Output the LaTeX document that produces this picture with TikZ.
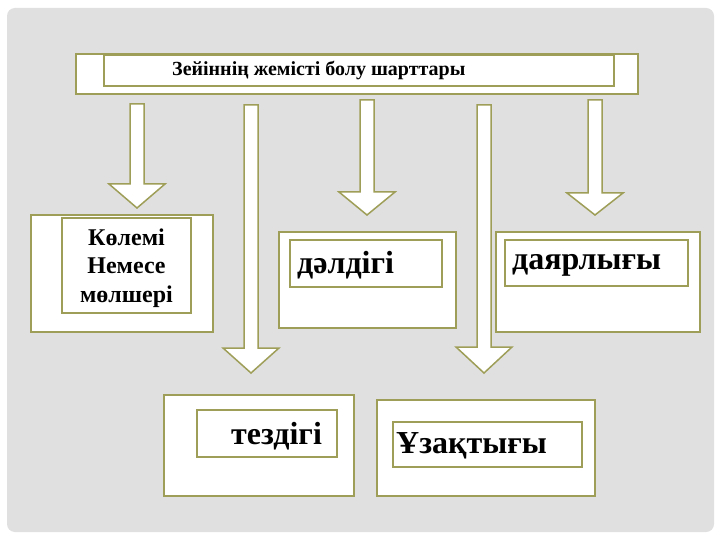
\documentclass[tikz,border=0pt]{standalone}
\usepackage{fontspec}
\setmainfont{Liberation Serif}
\definecolor{bg}{RGB}{224,224,224}
\definecolor{olive}{RGB}{158,158,88}
\tikzset{
  x=1pt, y=-1pt,
  outerbox/.style={draw=olive, line width=1.6pt, fill=white},
  innerbox/.style={draw=olive, line width=1.6pt, fill=white},
  blockarrow/.style={draw=olive, line width=1.5pt, fill=white, line join=miter},
  lbl/.style={font=\bfseries, text=black, inner sep=0pt},
}
% #1 center x, #2 top y, #3 head top y, #4 tip y
\newcommand\myblockarrow[4]{%
  \draw[blockarrow] (#1-7,#2) -- (#1+7,#2) -- (#1+7,#3) -- (#1+28,#3) -- (#1,#4)
    -- (#1-28,#3) -- (#1-7,#3) -- cycle;}
\begin{document}
\begin{tikzpicture}
\useasboundingbox (0,0) rectangle (720,540);
\fill[white] (0,0) rectangle (720,540);
\fill[bg, rounded corners=8pt] (7,8) rectangle (714,532);

% top box
\draw[outerbox] (76,54) rectangle (638,94);
\draw[innerbox] (104,55) rectangle (614,86);
\node[lbl, font=\fontsize{20}{22}\selectfont\bfseries, anchor=west] (top) at (172,71) {Зейіннің жемісті болу шарттары};

% arrows
\myblockarrow{137}{104}{184}{208}
\myblockarrow{251}{105}{348}{373}
\myblockarrow{367}{100}{192}{215}
\myblockarrow{484}{105}{347}{373}
\myblockarrow{595}{100}{193}{215}

% box A
\draw[outerbox] (31,215) rectangle (213,332);
\draw[innerbox] (62,218) rectangle (191,313);
\node[lbl, font=\fontsize{24}{28.5}\selectfont\bfseries, align=center] (a) at (126.5,268) {Көлемі\\Немесе\\мөлшері};

% box B
\draw[outerbox] (279,232) rectangle (456,328);
\draw[innerbox] (290,240) rectangle (442,287);
\node[lbl, font=\fontsize{32}{36}\selectfont\bfseries, anchor=west] (b) at (297,265) {дәлдігі};

% box C
\draw[outerbox] (496,232) rectangle (700,332);
\draw[innerbox] (505,240) rectangle (688,286);
\node[lbl, font=\fontsize{32}{36}\selectfont\bfseries, anchor=west] (c) at (512,265) {даярлығы};

% box D
\draw[outerbox] (164,395) rectangle (354,496);
\draw[innerbox] (197,410) rectangle (337,457);
\node[lbl, font=\fontsize{32}{36}\selectfont\bfseries, anchor=west] (d) at (231,436) {тездігі};

% box E
\draw[outerbox] (377,400) rectangle (595,496);
\draw[innerbox] (393,422) rectangle (582,467);
\node[lbl, font=\fontsize{32}{36}\selectfont\bfseries, anchor=west] (e) at (396,446) {Ұзақтығы};
\end{tikzpicture}
\end{document}
